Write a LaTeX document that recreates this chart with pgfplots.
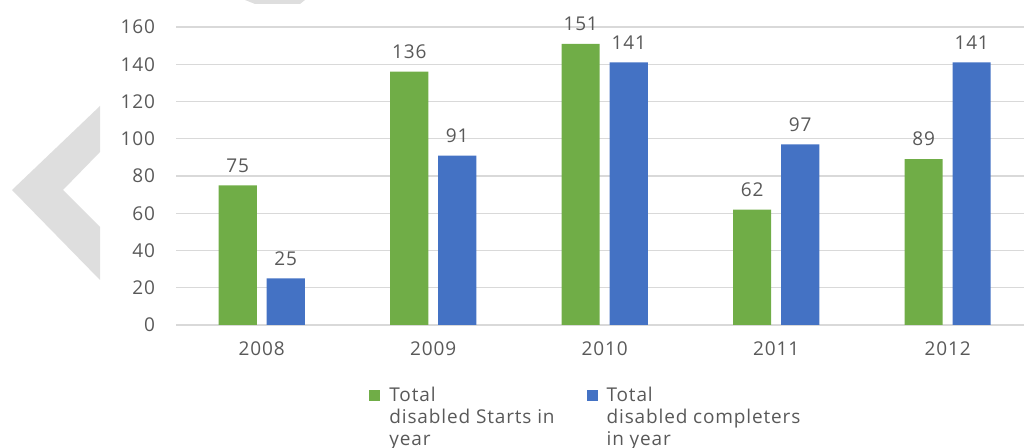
\documentclass[border=0pt]{standalone}
\usepackage{fontspec}
\setmainfont{Open Sans}[LetterSpace=4.5]
\usepackage{pgfplots}
\pgfplotsset{compat=1.18}
\definecolor{cgreen}{HTML}{70AD47}
\definecolor{cblue}{HTML}{4472C4}
\definecolor{cgrid}{HTML}{D9D9D9}
\definecolor{ctext}{HTML}{595959}
\definecolor{cwm}{HTML}{DEDEDE}
\begin{document}
\begin{tikzpicture}
\path[use as bounding box] (0,0) rectangle (512pt,224pt);
\fill[cwm] (6pt,129pt) -- (50pt,171pt) -- (50pt,148pt) -- (31.5pt,129pt) -- (50pt,110.5pt) -- (50pt,84pt) -- cycle;
\fill[cwm] (122.5pt,224pt) -- (152.5pt,224pt) -- (150pt,222pt) -- (127.5pt,222pt) -- cycle;
\begin{axis}[
  at={(88pt,61.5pt)}, anchor=south west,
  scale only axis, width=424pt, height=149pt,
  ymin=0, ymax=160, ytick={0,20,...,160},
  xmin=-0.5, xmax=4.445,
  xtick={0,...,4}, xticklabels={2008,2009,2010,2011,2012},
  axis line style={draw=none},
  major tick length=0pt,
  ymajorgrids, grid style={cgrid, line width=0.7pt},
  ybar, bar width=0.222,
  clip=false,
  tick label style={ctext, font=\fontsize{9.5}{11}\selectfont},
  yticklabel style={xshift=-7pt},
  xticklabel style={yshift=-5pt},
  /pgf/number format/assume math mode=true,
  nodes near coords,
  nodes near coords style={ctext, font=\fontsize{9.5}{11}\selectfont, yshift=3pt},
  legend columns=2,
  legend cell align=left,
  legend image code/.code={\path[draw=none,fill=none] (0pt,8.3pt) rectangle (8pt,13.8pt); \fill[#1] (0pt,8.3pt) rectangle (5.5pt,13.8pt);},
  legend style={at={(0.2276,-0.193)}, anchor=north west, draw=none, fill=none,
    inner sep=0pt, text=ctext, font=\fontsize{9.5}{11}\selectfont,
    cells={align=left},
    /tikz/every even column/.append style={column sep=14pt}},
]
\addplot[fill=cgreen, draw=none, bar shift=-0.14] coordinates {(0,75) (1,136) (2,151) (3,62) (4,89)};
\addlegendentry{Total\\disabled Starts in\\year}
\addplot[fill=cblue, draw=none, bar shift=0.14] coordinates {(0,25) (1,91) (2,141) (3,97) (4,141)};
\addlegendentry{Total\\disabled completers\\in year}
\end{axis}
\end{tikzpicture}
\end{document}
